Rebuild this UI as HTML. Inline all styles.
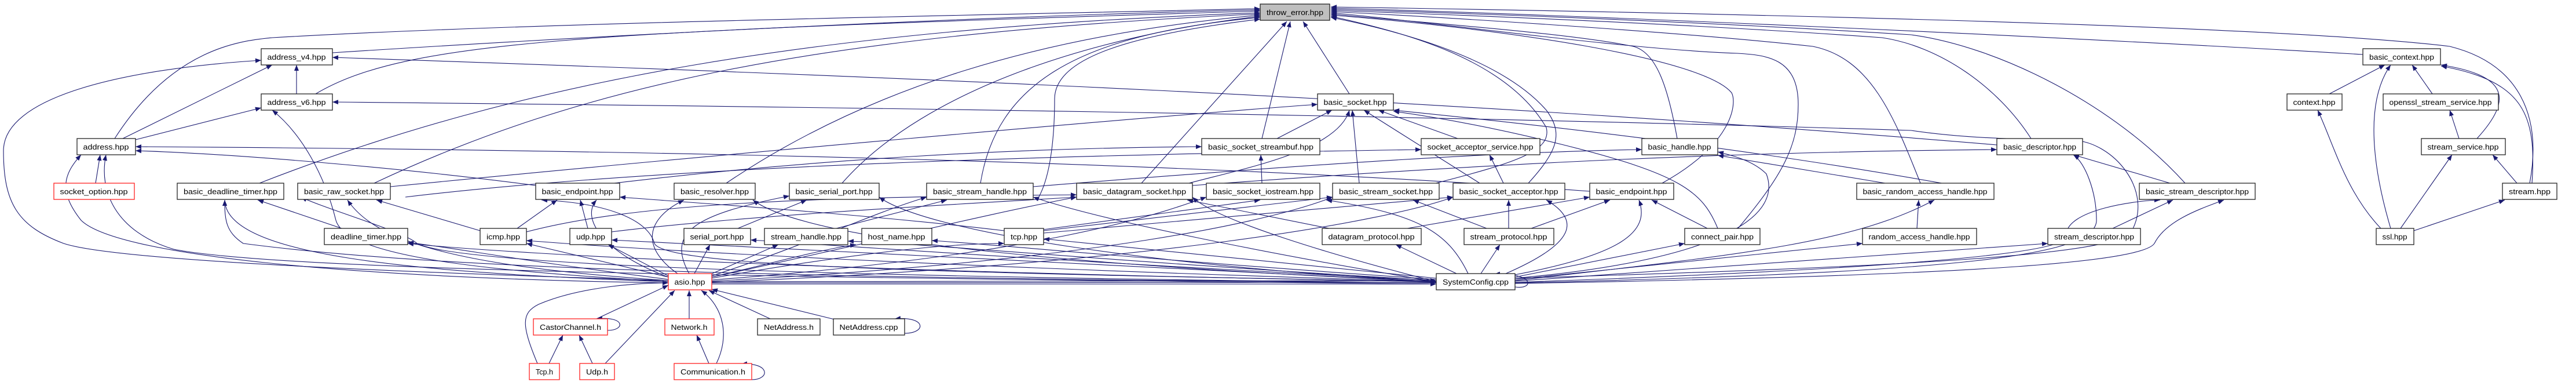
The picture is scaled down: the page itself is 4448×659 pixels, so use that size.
<!DOCTYPE html>
<html><head><meta charset="utf-8"><style>
html,body{margin:0;padding:0;background:#fff;width:4448px;height:659px;overflow:hidden}
svg{display:block}
.e{fill:none;stroke:#191970;stroke-width:1.1;marker-end:url(#a)}
.n{fill:#fff;stroke:#222;stroke-width:1.3}
.r{fill:#fff;stroke:#ff2020;stroke-width:1.3}
.g{fill:#bfbfbf;stroke:#222;stroke-width:1.3}
text{font-family:"Liberation Sans",sans-serif;font-size:13px;fill:#000}
</style></head><body>
<svg width="4448" height="659" viewBox="0 0 4448 659" xmlns="http://www.w3.org/2000/svg">
<defs><marker id="a" viewBox="0 0 10 8" refX="10" refY="4" markerWidth="11" markerHeight="8" markerUnits="userSpaceOnUse" orient="auto"><path d="M0,0L10,4L0,8z" fill="#191970"/></marker></defs>
<g>
<path class="e" d="M574,91 C900,70 1600,30 2176,17"/>
<path class="e" d="M545,162 C700,70 1000,55 2176,19"/>
<path class="e" d="M198,239 C300,80 420,70 470,65 C900,40 1600,28 2176,15"/>
<path class="e" d="M448,316 C900,140 1400,50 2176,22"/>
<path class="e" d="M646,316 C1000,150 1400,60 2176,24"/>
<path class="e" d="M1254,316 C1500,150 1800,60 2176,26"/>
<path class="e" d="M1454,316 C1600,150 1900,60 2176,28"/>
<path class="e" d="M1693,316 C1720,150 1850,60 2176,30"/>
<path class="e" d="M1790,346 C1820,300 1821,200 1821,170 C1822,100 1950,60 2176,33"/>
<path class="e" d="M1971,316 L2222,37"/>
<path class="e" d="M2179,239 L2228,37"/>
<path class="e" d="M2330,162 L2250,37"/>
<path class="e" d="M2639,316 C2690,260 2700,230 2670,190 C2600,110 2450,60 2298,30"/>
<path class="e" d="M2479,316 C2620,280 2680,260 2670,220 C2600,100 2420,55 2298,28"/>
<path class="e" d="M2870,316 C2990,250 3000,180 2990,160 C2940,100 2600,50 2298,26"/>
<path class="e" d="M2896,239 C2880,150 2860,90 2820,80 C2700,55 2400,35 2298,24"/>
<path class="e" d="M3001,394 C3080,300 3105,250 3105,180 C3105,100 3050,95 3000,92 C2800,85 2450,35 2298,22"/>
<path class="e" d="M3316,316 C3270,200 3230,100 3130,80 C2900,55 2500,30 2298,20"/>
<path class="e" d="M3507,239 C3450,150 3350,80 3250,65 C2900,40 2500,25 2298,18"/>
<path class="e" d="M3773,316 C3650,180 3450,80 3300,60 C2900,35 2500,22 2298,16"/>
<path class="e" d="M4080,94 C3500,60 2700,25 2298,14"/>
<path class="e" d="M4368,316 C4390,200 4350,110 4230,80 C3900,40 2800,20 2298,12"/>
<path class="e" d="M1154,484 C700,470 200,450 110,420 C30,390 6,350 6,260 C6,170 200,120 451,104"/>
<path class="e" d="M3448,250 C2500,170 1500,130 574,99"/>
<path class="e" d="M2616,480 C3300,460 3650,440 3680,400 C3720,330 3650,245 3580,242 C3500,240 3400,240 3300,225 C2500,200 1500,185 574,176"/>
<path class="e" d="M2745,330 C2000,275 1000,258 234,253"/>
<path class="e" d="M512,162 L512,112"/>
<path class="e" d="M212,239 L470,112"/>
<path class="e" d="M234,241 L451,186"/>
<path class="e" d="M165,316 L173,267"/>
<path class="e" d="M925,320 C700,290 400,265 234,260"/>
<path class="e" d="M590,394 L445,345"/>
<path class="e" d="M829,398 L650,345"/>
<path class="e" d="M893,394 L962,345"/>
<path class="e" d="M1015,394 L1002,345"/>
<path class="e" d="M1056,400 C1300,370 1700,350 1859,340"/>
<path class="e" d="M909,400 C1100,350 1400,340 1859,336"/>
<path class="e" d="M1274,394 L1393,345"/>
<path class="e" d="M1444,394 L1635,345"/>
<path class="e" d="M1734,398 C1500,370 1200,350 1070,340"/>
<path class="e" d="M1802,398 L2301,340"/>
<path class="e" d="M1802,402 L2509,340"/>
<path class="e" d="M1802,396 L2176,345"/>
<path class="e" d="M2205,239 L2300,190"/>
<path class="e" d="M2179,316 L2177,267"/>
<path class="e" d="M2347,316 L2335,190"/>
<path class="e" d="M2053,316 C2150,290 2310,260 2330,190"/>
<path class="e" d="M674,322 C1200,270 2000,200 2275,180"/>
<path class="e" d="M2555,316 L2355,190"/>
<path class="e" d="M2517,239 L2380,190"/>
<path class="e" d="M2596,316 L2572,267"/>
<path class="e" d="M3430,330 C3000,250 2600,210 2406,190"/>
<path class="e" d="M2605,394 L2605,345"/>
<path class="e" d="M2567,394 L2440,345"/>
<path class="e" d="M2644,394 L2780,345"/>
<path class="e" d="M2295,394 L2050,345"/>
<path class="e" d="M2430,394 L2745,340"/>
<path class="e" d="M2948,394 L2852,345"/>
<path class="e" d="M2966,394 C2940,330 2900,300 2700,250 C2600,225 2500,205 2406,192"/>
<path class="e" d="M3255,316 L2966,268"/>
<path class="e" d="M3310,394 L3313,345"/>
<path class="e" d="M1784,322 C2300,280 2600,262 2835,258"/>
<path class="e" d="M3747,316 L3580,267"/>
<path class="e" d="M3648,394 L3752,345"/>
<path class="e" d="M2059,320 C2600,280 3000,262 3448,258"/>
<path class="e" d="M700,340 C1200,280 2000,265 2454,258"/>
<path class="e" d="M950,330 C1400,270 1800,255 2075,253"/>
<path class="e" d="M4022,162 L4118,112"/>
<path class="e" d="M4200,162 L4165,112"/>
<path class="e" d="M4246,239 L4230,190"/>
<path class="e" d="M4277,239 C4340,170 4330,130 4215,112"/>
<path class="e" d="M4346,316 L4304,267"/>
<path class="e" d="M4372,316 C4380,200 4360,140 4215,114"/>
<path class="e" d="M4111,394 C4050,330 4030,250 4002,190"/>
<path class="e" d="M4128,394 C4100,300 4080,180 4128,112"/>
<path class="e" d="M4145,394 L4234,267"/>
<path class="e" d="M4168,398 L4325,345"/>
<path class="e" d="M1199,472 L1226,422"/>
<path class="e" d="M1225,474 L1344,422"/>
<path class="e" d="M1229,478 C1350,450 1420,430 1478,422"/>
<path class="e" d="M1229,480 C1400,450 1600,420 1734,420"/>
<path class="e" d="M1170,472 C1110,430 1110,380 1181,345"/>
<path class="e" d="M1190,472 C1150,400 1200,370 1363,338"/>
<path class="e" d="M1229,476 C1400,420 1500,370 1600,340"/>
<path class="e" d="M1229,478 C1500,420 1700,370 1859,340"/>
<path class="e" d="M1154,478 C1050,440 1000,380 1030,345"/>
<path class="e" d="M1154,476 L1050,422"/>
<path class="e" d="M1154,478 L909,420"/>
<path class="e" d="M1154,482 C900,450 800,430 704,418"/>
<path class="e" d="M1154,484 C800,460 650,420 600,345"/>
<path class="e" d="M1154,486 C700,470 390,440 388,345"/>
<path class="e" d="M1154,488 C600,480 200,440 140,380 C100,330 110,300 140,267"/>
<path class="e" d="M1154,486 C900,470 600,450 580,380 C560,300 520,230 470,190"/>
<path class="e" d="M1229,483 C1800,440 2000,370 2083,340"/>
<path class="e" d="M1229,485 C1900,450 2200,380 2301,340"/>
<path class="e" d="M1229,487 C2000,455 2400,380 2509,340"/>
<path class="e" d="M1229,486 L2480,484"/>
<path class="e" d="M1229,488 L2480,487"/>
<path class="e" d="M1229,490 L2480,490"/>
<path class="e" d="M1190,550 L1190,501"/>
<path class="e" d="M1330,550 L1224,501"/>
<path class="e" d="M1445,552 L1229,499"/>
<path class="e" d="M1562,575 C1600,575 1600,545 1545,550"/>
<path class="e" d="M1224,627 L1203,578"/>
<path class="e" d="M1237,627 C1260,580 1250,530 1211,501"/>
<path class="e" d="M1298,655 C1330,655 1330,625 1280,628"/>
<path class="e" d="M1030,550 L1154,492"/>
<path class="e" d="M928,627 C900,560 900,540 930,525 C1000,495 1100,488 1154,488"/>
<path class="e" d="M948,627 L972,578"/>
<path class="e" d="M1023,627 L1000,578"/>
<path class="e" d="M1045,627 L1165,501"/>
<path class="e" d="M1049,570 C1080,570 1080,545 1030,550"/>
<path class="e" d="M2515,472 L2410,422"/>
<path class="e" d="M2557,472 L2590,422"/>
<path class="e" d="M2535,472 C2500,400 2450,370 2290,345"/>
<path class="e" d="M2600,472 C2720,420 2730,380 2670,345"/>
<path class="e" d="M2610,475 C2800,440 2850,400 2830,345"/>
<path class="e" d="M2616,478 L2909,420"/>
<path class="e" d="M2616,480 C2950,450 3080,380 3050,300 C3030,280 3000,270 2966,262"/>
<path class="e" d="M2616,482 L3216,420"/>
<path class="e" d="M2616,484 C3000,440 3200,420 3340,345"/>
<path class="e" d="M2616,485 L3536,420"/>
<path class="e" d="M2616,487 C3400,460 3560,430 3568,410 C3560,360 3700,345 3730,345"/>
<path class="e" d="M2616,488 C3400,470 3620,440 3620,380 C3620,330 3600,280 3580,267"/>
<path class="e" d="M2616,489 C3450,475 3700,450 3720,420 C3740,380 3800,360 3840,345"/>
<path class="e" d="M2480,486 C1500,470 900,440 704,420"/>
<path class="e" d="M2480,486 C1600,460 1100,430 909,415"/>
<path class="e" d="M2480,486 C1700,450 1200,420 1056,414"/>
<path class="e" d="M2480,484 C1800,450 1400,420 1296,414"/>
<path class="e" d="M2480,484 C1900,450 1600,420 1464,416"/>
<path class="e" d="M2480,482 C2000,450 1700,420 1609,415"/>
<path class="e" d="M2480,480 L1802,412"/>
<path class="e" d="M2480,488 C1500,480 800,470 420,420 C390,400 388,380 388,345"/>
<path class="e" d="M2480,488 C1500,478 800,460 720,420 C700,400 560,360 520,340"/>
<path class="e" d="M2480,486 C1600,470 1150,460 1130,420 C1120,380 1050,350 935,345"/>
<path class="e" d="M2480,490 C1500,480 500,470 300,430 C200,400 170,330 183,267"/>
<path class="e" d="M2480,486 C1900,460 1400,420 1300,345"/>
<path class="e" d="M2480,486 C2000,460 1600,400 1518,340"/>
<path class="e" d="M2480,486 C2200,440 1900,380 1784,340"/>
<path class="e" d="M2480,486 C2300,440 2100,380 2059,340"/>
<path class="e" d="M2616,495 C2650,500 2650,470 2580,473"/>
</g>
<g>
<rect class="g" x="2176" y="7" width="120" height="28"/><text x="2236" y="26" text-anchor="middle" textLength="98" lengthAdjust="spacingAndGlyphs">throw_error.hpp</text>
<rect class="n" x="451" y="84" width="123" height="28"/><text x="512" y="103" text-anchor="middle" textLength="101" lengthAdjust="spacingAndGlyphs">address_v4.hpp</text>
<rect class="n" x="4080" y="84" width="134" height="28"/><text x="4147" y="103" text-anchor="middle" textLength="112" lengthAdjust="spacingAndGlyphs">basic_context.hpp</text>
<rect class="n" x="451" y="162" width="123" height="28"/><text x="512" y="181" text-anchor="middle" textLength="101" lengthAdjust="spacingAndGlyphs">address_v6.hpp</text>
<rect class="n" x="2275" y="162" width="131" height="28"/><text x="2340" y="181" text-anchor="middle" textLength="109" lengthAdjust="spacingAndGlyphs">basic_socket.hpp</text>
<rect class="n" x="3949" y="162" width="95" height="28"/><text x="3996" y="181" text-anchor="middle" textLength="73" lengthAdjust="spacingAndGlyphs">context.hpp</text>
<rect class="n" x="4115" y="162" width="199" height="28"/><text x="4214" y="181" text-anchor="middle" textLength="177" lengthAdjust="spacingAndGlyphs">openssl_stream_service.hpp</text>
<rect class="n" x="133" y="239" width="101" height="28"/><text x="183" y="258" text-anchor="middle" textLength="79" lengthAdjust="spacingAndGlyphs">address.hpp</text>
<rect class="n" x="2075" y="239" width="204" height="28"/><text x="2177" y="258" text-anchor="middle" textLength="182" lengthAdjust="spacingAndGlyphs">basic_socket_streambuf.hpp</text>
<rect class="n" x="2454" y="239" width="205" height="28"/><text x="2556" y="258" text-anchor="middle" textLength="183" lengthAdjust="spacingAndGlyphs">socket_acceptor_service.hpp</text>
<rect class="n" x="2835" y="239" width="131" height="28"/><text x="2900" y="258" text-anchor="middle" textLength="109" lengthAdjust="spacingAndGlyphs">basic_handle.hpp</text>
<rect class="n" x="3448" y="239" width="148" height="28"/><text x="3522" y="258" text-anchor="middle" textLength="126" lengthAdjust="spacingAndGlyphs">basic_descriptor.hpp</text>
<rect class="n" x="4181" y="239" width="145" height="28"/><text x="4253" y="258" text-anchor="middle" textLength="123" lengthAdjust="spacingAndGlyphs">stream_service.hpp</text>
<rect class="r" x="93" y="316" width="139" height="28"/><text x="162" y="335" text-anchor="middle" textLength="117" lengthAdjust="spacingAndGlyphs">socket_option.hpp</text>
<rect class="n" x="306" y="316" width="184" height="28"/><text x="398" y="335" text-anchor="middle" textLength="162" lengthAdjust="spacingAndGlyphs">basic_deadline_timer.hpp</text>
<rect class="n" x="514" y="316" width="160" height="28"/><text x="594" y="335" text-anchor="middle" textLength="138" lengthAdjust="spacingAndGlyphs">basic_raw_socket.hpp</text>
<rect class="n" x="925" y="316" width="145" height="28"/><text x="997" y="335" text-anchor="middle" textLength="123" lengthAdjust="spacingAndGlyphs">basic_endpoint.hpp</text>
<rect class="n" x="1164" y="316" width="140" height="28"/><text x="1234" y="335" text-anchor="middle" textLength="118" lengthAdjust="spacingAndGlyphs">basic_resolver.hpp</text>
<rect class="n" x="1363" y="316" width="155" height="28"/><text x="1440" y="335" text-anchor="middle" textLength="133" lengthAdjust="spacingAndGlyphs">basic_serial_port.hpp</text>
<rect class="n" x="1600" y="316" width="184" height="28"/><text x="1692" y="335" text-anchor="middle" textLength="162" lengthAdjust="spacingAndGlyphs">basic_stream_handle.hpp</text>
<rect class="n" x="1859" y="316" width="200" height="28"/><text x="1959" y="335" text-anchor="middle" textLength="178" lengthAdjust="spacingAndGlyphs">basic_datagram_socket.hpp</text>
<rect class="n" x="2083" y="316" width="196" height="28"/><text x="2181" y="335" text-anchor="middle" textLength="174" lengthAdjust="spacingAndGlyphs">basic_socket_iostream.hpp</text>
<rect class="n" x="2301" y="316" width="184" height="28"/><text x="2393" y="335" text-anchor="middle" textLength="162" lengthAdjust="spacingAndGlyphs">basic_stream_socket.hpp</text>
<rect class="n" x="2509" y="316" width="193" height="28"/><text x="2605" y="335" text-anchor="middle" textLength="171" lengthAdjust="spacingAndGlyphs">basic_socket_acceptor.hpp</text>
<rect class="n" x="2745" y="316" width="145" height="28"/><text x="2817" y="335" text-anchor="middle" textLength="123" lengthAdjust="spacingAndGlyphs">basic_endpoint.hpp</text>
<rect class="n" x="3206" y="316" width="237" height="28"/><text x="3324" y="335" text-anchor="middle" textLength="215" lengthAdjust="spacingAndGlyphs">basic_random_access_handle.hpp</text>
<rect class="n" x="3694" y="316" width="200" height="28"/><text x="3794" y="335" text-anchor="middle" textLength="178" lengthAdjust="spacingAndGlyphs">basic_stream_descriptor.hpp</text>
<rect class="n" x="4321" y="316" width="94" height="28"/><text x="4368" y="335" text-anchor="middle" textLength="72" lengthAdjust="spacingAndGlyphs">stream.hpp</text>
<rect class="n" x="560" y="394" width="144" height="28"/><text x="632" y="413" text-anchor="middle" textLength="122" lengthAdjust="spacingAndGlyphs">deadline_timer.hpp</text>
<rect class="n" x="829" y="394" width="80" height="28"/><text x="869" y="413" text-anchor="middle" textLength="58" lengthAdjust="spacingAndGlyphs">icmp.hpp</text>
<rect class="n" x="984" y="394" width="72" height="28"/><text x="1020" y="413" text-anchor="middle" textLength="50" lengthAdjust="spacingAndGlyphs">udp.hpp</text>
<rect class="n" x="1181" y="394" width="115" height="28"/><text x="1238" y="413" text-anchor="middle" textLength="93" lengthAdjust="spacingAndGlyphs">serial_port.hpp</text>
<rect class="n" x="1320" y="394" width="144" height="28"/><text x="1392" y="413" text-anchor="middle" textLength="122" lengthAdjust="spacingAndGlyphs">stream_handle.hpp</text>
<rect class="n" x="1488" y="394" width="121" height="28"/><text x="1548" y="413" text-anchor="middle" textLength="99" lengthAdjust="spacingAndGlyphs">host_name.hpp</text>
<rect class="n" x="1734" y="394" width="68" height="28"/><text x="1768" y="413" text-anchor="middle" textLength="46" lengthAdjust="spacingAndGlyphs">tcp.hpp</text>
<rect class="n" x="2283" y="394" width="171" height="28"/><text x="2368" y="413" text-anchor="middle" textLength="149" lengthAdjust="spacingAndGlyphs">datagram_protocol.hpp</text>
<rect class="n" x="2528" y="394" width="155" height="28"/><text x="2605" y="413" text-anchor="middle" textLength="133" lengthAdjust="spacingAndGlyphs">stream_protocol.hpp</text>
<rect class="n" x="2909" y="394" width="130" height="28"/><text x="2974" y="413" text-anchor="middle" textLength="108" lengthAdjust="spacingAndGlyphs">connect_pair.hpp</text>
<rect class="n" x="3216" y="394" width="197" height="28"/><text x="3314" y="413" text-anchor="middle" textLength="175" lengthAdjust="spacingAndGlyphs">random_access_handle.hpp</text>
<rect class="n" x="3536" y="394" width="160" height="28"/><text x="3616" y="413" text-anchor="middle" textLength="138" lengthAdjust="spacingAndGlyphs">stream_descriptor.hpp</text>
<rect class="n" x="4103" y="394" width="65" height="28"/><text x="4135" y="413" text-anchor="middle" textLength="43" lengthAdjust="spacingAndGlyphs">ssl.hpp</text>
<rect class="r" x="1154" y="472" width="75" height="28"/><text x="1191" y="491" text-anchor="middle" textLength="53" lengthAdjust="spacingAndGlyphs">asio.hpp</text>
<rect class="n" x="2480" y="472" width="136" height="28"/><text x="2548" y="491" text-anchor="middle" textLength="114" lengthAdjust="spacingAndGlyphs">SystemConfig.cpp</text>
<rect class="r" x="921" y="550" width="128" height="28"/><text x="985" y="569" text-anchor="middle" textLength="106" lengthAdjust="spacingAndGlyphs">CastorChannel.h</text>
<rect class="r" x="1148" y="550" width="85" height="28"/><text x="1190" y="569" text-anchor="middle" textLength="63" lengthAdjust="spacingAndGlyphs">Network.h</text>
<rect class="n" x="1308" y="550" width="108" height="28"/><text x="1362" y="569" text-anchor="middle" textLength="86" lengthAdjust="spacingAndGlyphs">NetAddress.h</text>
<rect class="n" x="1439" y="550" width="123" height="28"/><text x="1500" y="569" text-anchor="middle" textLength="101" lengthAdjust="spacingAndGlyphs">NetAddress.cpp</text>
<rect class="r" x="914" y="627" width="52" height="28"/><text x="940" y="646" text-anchor="middle" textLength="30" lengthAdjust="spacingAndGlyphs">Tcp.h</text>
<rect class="r" x="1001" y="627" width="60" height="28"/><text x="1031" y="646" text-anchor="middle" textLength="38" lengthAdjust="spacingAndGlyphs">Udp.h</text>
<rect class="r" x="1164" y="627" width="134" height="28"/><text x="1231" y="646" text-anchor="middle" textLength="112" lengthAdjust="spacingAndGlyphs">Communication.h</text>
</g>
</svg>
</body></html>
